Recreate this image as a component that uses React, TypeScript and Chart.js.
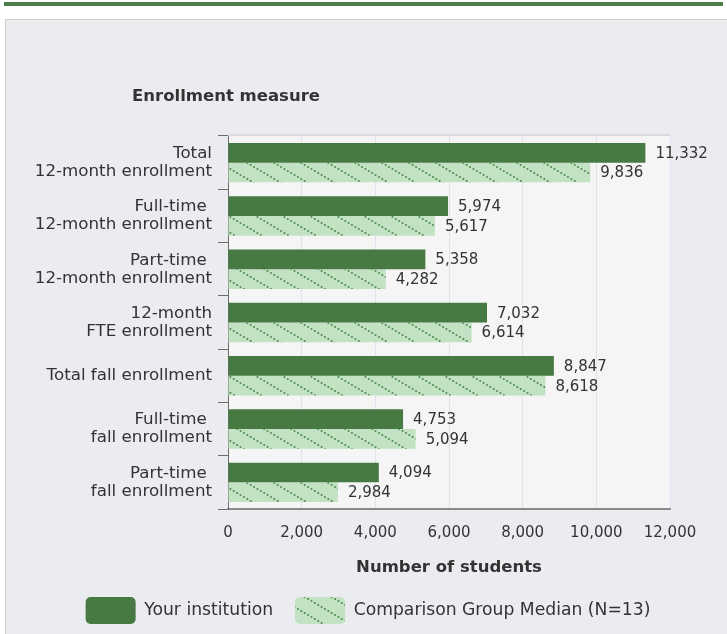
import React, { useEffect, useRef } from "react";
import { Chart, registerables } from "chart.js";

Chart.register(...registerables);

const categories: (string | string[])[] = [
  ["Total", "12-month enrollment"],
  ["Full-time ", "12-month enrollment"],
  ["Part-time ", "12-month enrollment"],
  ["12-month", "FTE enrollment"],
  "Total fall enrollment",
  ["Full-time ", "fall enrollment"],
  ["Part-time ", "fall enrollment"],
];
const yourInstitution = [11332, 5974, 5358, 7032, 8847, 4753, 4094];
const comparisonMedian = [9836, 5617, 4282, 6614, 8618, 5094, 2984];
const seriesNames = ["Your institution", "Comparison Group Median (N=13)"];
const xTicks = { min: 0, max: 12000, step: 2000 };
const yAxisTitle = "Enrollment measure";
const xAxisTitle = "Number of students";

const FONT = "'DejaVu Sans', sans-serif";
const TEXT = "#333333";
const DARK = "#477a43";
const LIGHT = "#c3e2c3";
const DOT = "#4f904f";

function makePattern(): CanvasPattern | string {
  const c = document.createElement("canvas");
  const w = 27, h = 16;
  c.width = w;
  c.height = h;
  const g = c.getContext("2d");
  if (!g) return LIGHT;
  g.fillStyle = LIGHT;
  g.fillRect(0, 0, w, h);
  g.fillStyle = DOT;
  const n = 8;
  for (let i = 0; i < n; i++) {
    const t = (i + 0.5) / n;
    g.beginPath();
    g.arc(t * w, t * h, 1.05, 0, Math.PI * 2);
    g.fill();
  }
  const p = g.createPattern(c, "repeat");
  return p || LIGHT;
}

const fmt = (v: number) => v.toLocaleString("en-US");

export default function App() {
  const ref = useRef<HTMLCanvasElement | null>(null);

  useEffect(() => {
    if (!ref.current) return;
    const pattern = makePattern();

    const bgPlugin = {
      id: "plotBg",
      afterLayout(chart: any) {
        if (chart.legend) {
          chart.legend.left = 0;
          chart.legend.right = chart.width + 3;
        }
      },
      beforeDraw(chart: any) {
        const { ctx, chartArea: a } = chart;
        ctx.save();
        ctx.fillStyle = "#f5f5f5";
        ctx.fillRect(a.left, a.top, a.right - a.left, a.bottom - a.top);
        ctx.strokeStyle = "#dadada";
        ctx.lineWidth = 2;
        ctx.beginPath();
        ctx.moveTo(a.left, a.top - 1);
        ctx.lineTo(a.right, a.top - 1);
        ctx.stroke();
        ctx.restore();
      },
    };

    const labelPlugin = {
      id: "valueLabels",
      afterDatasetsDraw(chart: any) {
        const { ctx } = chart;
        ctx.save();
        ctx.font = `15px ${FONT}`;
        ctx.fillStyle = TEXT;
        ctx.textAlign = "left";
        ctx.textBaseline = "middle";
        chart.data.datasets.forEach((ds: any, di: number) => {
          const meta = chart.getDatasetMeta(di);
          meta.data.forEach((el: any, i: number) => {
            ctx.fillText(fmt(ds.data[i]), el.x + 10, el.y + 1);
          });
        });
        ctx.restore();
      },
    };

    const titlePlugin = {
      id: "yTitle",
      afterDraw(chart: any) {
        const { ctx, chartArea: a } = chart;
        ctx.save();
        ctx.font = `bold 16.5px ${FONT}`;
        ctx.fillStyle = TEXT;
        ctx.textAlign = "center";
        ctx.textBaseline = "middle";
        ctx.fillText(yAxisTitle, a.left - 2, a.top - 39);
        ctx.restore();
      },
    };

    const chart = new Chart(ref.current, {
      type: "bar",
      data: {
        labels: categories,
        datasets: [
          {
            label: seriesNames[0],
            data: yourInstitution,
            backgroundColor: DARK,
            borderWidth: 0,
            categoryPercentage: 0.74,
            barPercentage: 1,
          },
          {
            label: seriesNames[1],
            data: comparisonMedian,
            backgroundColor: pattern as any,
            borderWidth: 0,
            categoryPercentage: 0.74,
            barPercentage: 1,
          },
        ],
      },
      options: {
        indexAxis: "y",
        animation: false,
        responsive: false,
        maintainAspectRatio: false,
        layout: { padding: { top: 116, right: 57, left: 0, bottom: 0 } },
        scales: {
          x: {
            min: xTicks.min,
            max: xTicks.max,
            afterFit: (s: any) => {
              s.height = 66;
            },
            ticks: {
              stepSize: xTicks.step,
              padding: 15,
              color: TEXT,
              font: { family: FONT, size: 15 },
              callback: (v: any) => fmt(Number(v)),
            },
            grid: { color: "#dde3ee", drawTicks: false, lineWidth: 1 },
            border: { display: true, color: "#8a8a8a", width: 2 },
            title: {
              display: true,
              text: xAxisTitle,
              color: TEXT,
              font: { family: FONT, size: 16.5, weight: "bold" },
              padding: { top: 0, bottom: -3 },
            },
          },
          y: {
            afterFit: (s: any) => {
              s.width = 222;
            },
            ticks: {
              padding: 6,
              color: TEXT,
              font: { family: FONT, size: 16.7, lineHeight: 1.08 },
            },
            grid: {
              offset: true,
              drawOnChartArea: false,
              drawTicks: true,
              tickLength: 10,
              color: "#6e6e6e",
              lineWidth: 1,
            },
            border: { display: true, color: "#6e6e6e", width: 1 },
          },
        },
        plugins: {
          legend: {
            position: "bottom",
            labels: {
              boxWidth: 50,
              boxHeight: 27,
              useBorderRadius: true,
              borderRadius: 5,
              padding: 22,
              color: TEXT,
              font: { family: FONT, size: 17.2 },
            },
          },
          tooltip: { enabled: false },
          title: { display: false },
        },
      },
      plugins: [bgPlugin, labelPlugin, titlePlugin],
    });
    return () => chart.destroy();
  }, []);

  return (
    <div style={{ position: "absolute", left: 0, top: 0, width: 727, height: 634, overflow: "hidden", background: "#ffffff" }}>
      <div style={{ position: "absolute", left: 4, top: 2, width: 719, height: 4, background: "#4b8049" }} />
      <div
        style={{
          position: "absolute",
          left: 5,
          top: 19,
          width: 730,
          height: 630,
          background: "#ebecf0",
          borderLeft: "1px solid #cfcfcf",
          borderTop: "1px solid #cfcfcf",
        }}
      />
      <canvas ref={ref} width={721} height={614} style={{ position: "absolute", left: 6, top: 20, width: 721, height: 614 }} />
    </div>
  );
}
